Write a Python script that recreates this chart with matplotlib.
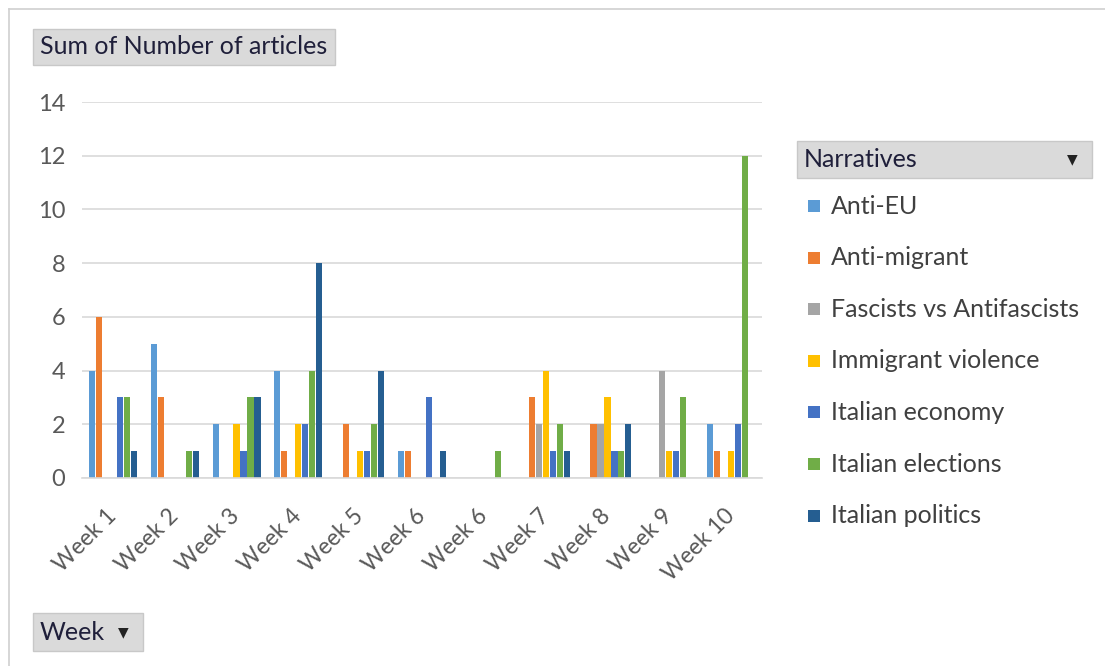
import numpy as np
from matplotlib import pyplot as plt
from matplotlib.patches import Rectangle
from matplotlib.lines import Line2D

plt.rcParams['font.family'] = ['Lato', 'DejaVu Sans']

weeks = ['Week 1', 'Week 2', 'Week 3', 'Week 4', 'Week 5', 'Week 6',
         'Week 6', 'Week 7', 'Week 8', 'Week 9', 'Week 10']

narratives = ['Anti-EU', 'Anti-migrant', 'Fascists vs Antifascists',
              'Immigrant violence', 'Italian economy', 'Italian elections',
              'Italian politics']

anti_eu = [4, 5, 2, 4, 0, 1, 0, 0, 0, 0, 2]
anti_migrant = [6, 3, 0, 1, 2, 1, 0, 3, 2, 0, 1]
fascists = [0, 0, 0, 0, 0, 0, 0, 2, 2, 4, 0]
imm_violence = [0, 0, 2, 2, 1, 0, 0, 4, 3, 1, 1]
it_economy = [3, 0, 1, 2, 1, 3, 0, 1, 1, 1, 2]
it_elections = [3, 1, 3, 4, 2, 0, 1, 2, 1, 3, 12]
it_politics = [1, 1, 3, 8, 4, 1, 0, 1, 2, 0, 0]

series = [anti_eu, anti_migrant, fascists, imm_violence,
          it_economy, it_elections, it_politics]
colors = ['#5B9BD5', '#ED7D31', '#A5A5A5', '#FFC000',
          '#4472C4', '#70AD47', '#255E91']

W, H = 1105, 666
fig = plt.figure(figsize=(W / 100, H / 100), dpi=100)

# outer frame of the pivot chart (only top and left edges are visible)
fig.lines.append(Line2D([9 / W, 9 / W], [0, 1 - 9 / H], transform=fig.transFigure,
                        color='#d0d0d0', linewidth=1.2))
fig.lines.append(Line2D([9 / W, 1], [1 - 9 / H, 1 - 9 / H], transform=fig.transFigure,
                        color='#d0d0d0', linewidth=1.2))

ax = fig.add_axes([82 / W, 1 - 478 / H, 680 / W, 376 / H])
x = np.arange(len(weeks))
bw = 0.113
for i, (vals, c) in enumerate(zip(series, colors)):
    ax.bar(x + (i - 3) * bw, vals, width=bw * 0.88, color=c, label=narratives[i])

ax.set_xlim(-0.5, len(weeks) - 0.5)
ax.set_ylim(0, 14)
ax.set_yticks(range(0, 15, 2))
ax.yaxis.grid(True, color='#d9d9d9', linewidth=1.2)
ax.set_axisbelow(True)
for s in ['top', 'right', 'left']:
    ax.spines[s].set_visible(False)
ax.spines['bottom'].set_color('#d9d9d9')
ax.spines['bottom'].set_linewidth(1.2)
ax.tick_params(length=0, labelsize=17, colors='#595959')
ax.tick_params(axis='y', pad=12)
ax.tick_params(axis='x', pad=25)
ax.set_xticks(x)
ax.set_xticklabels(weeks, rotation=45, ha='right', va='center', rotation_mode='anchor')
for lab in ax.get_xticklabels():
    lab.set_fontsize(16.5)

# field buttons
def button(x0, y0, x1, y1, text, arrow=False):
    fig.patches.append(Rectangle((x0 / W, 1 - y1 / H), (x1 - x0) / W, (y1 - y0) / H,
                                 transform=fig.transFigure, facecolor='#dadada',
                                 edgecolor='#c8c8c8', linewidth=1))
    fig.text((x0 + 7) / W, 1 - (y0 + y1) / 2 / H, text, fontsize=18,
             color='#1f1f3a', va='center', ha='left')
    if arrow:
        fig.text((x1 - 20) / W, 1 - (y0 + y1) / 2 / H, '▼', fontsize=10,
                 color='#222222', va='center', ha='center', family='DejaVu Sans')

button(33, 29, 335, 65, 'Sum of Number of articles')
button(33, 613, 143, 651, 'Week', arrow=True)
button(797, 141, 1092, 178, 'Narratives', arrow=True)

# legend
for i, (name, c) in enumerate(zip(narratives, colors)):
    yy = 206 + i * 51.6
    fig.patches.append(Rectangle((808 / W, 1 - (yy + 6) / H), 12 / W, 12 / H,
                                 transform=fig.transFigure, facecolor=c, edgecolor='none'))
    fig.text(831 / W, 1 - yy / H, name, fontsize=18, color='#404040',
             va='center', ha='left')

plt.savefig('out.png', dpi=100)
